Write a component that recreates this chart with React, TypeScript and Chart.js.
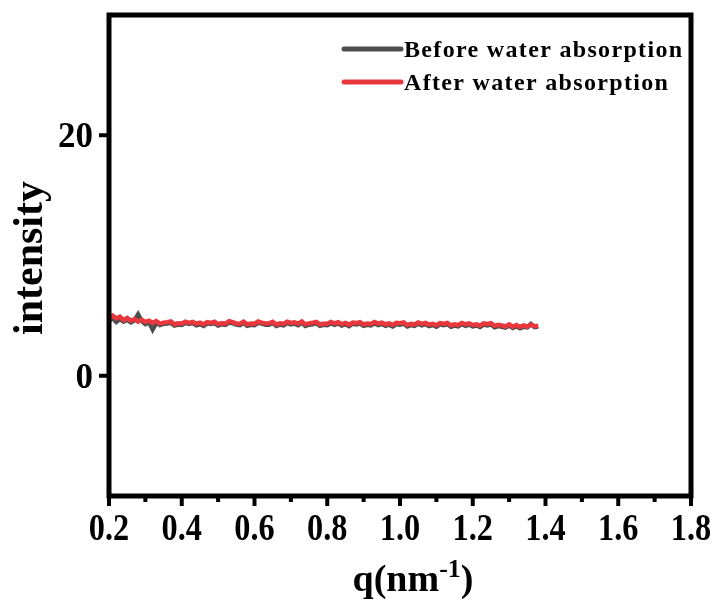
import React, { useEffect, useRef } from "react";
import { Chart, registerables } from "chart.js";
Chart.register(...registerables);

const qValues = [
  0.20, 0.21, 0.22, 0.23, 0.24, 0.25, 0.26, 0.27, 0.28, 0.29,
  0.30, 0.31, 0.32, 0.33, 0.34, 0.35, 0.36, 0.37, 0.38, 0.39,
  0.40, 0.41, 0.42, 0.43, 0.44, 0.45, 0.46, 0.47, 0.48, 0.49,
  0.50, 0.51, 0.52, 0.53, 0.54, 0.55, 0.56, 0.57, 0.58, 0.59,
  0.60, 0.61, 0.62, 0.63, 0.64, 0.65, 0.66, 0.67, 0.68, 0.69,
  0.70, 0.71, 0.72, 0.73, 0.74, 0.75, 0.76, 0.77, 0.78, 0.79,
  0.80, 0.81, 0.82, 0.83, 0.84, 0.85, 0.86, 0.87, 0.88, 0.89,
  0.90, 0.91, 0.92, 0.93, 0.94, 0.95, 0.96, 0.97, 0.98, 0.99,
  1.00, 1.01, 1.02, 1.03, 1.04, 1.05, 1.06, 1.07, 1.08, 1.09,
  1.10, 1.11, 1.12, 1.13, 1.14, 1.15, 1.16, 1.17, 1.18, 1.19,
  1.20, 1.21, 1.22, 1.23, 1.24, 1.25, 1.26, 1.27, 1.28, 1.29,
  1.30, 1.31, 1.32, 1.33, 1.34, 1.35, 1.36, 1.37, 1.38,
];

const beforeValues = [
  4.55, 4.80, 4.48, 4.72, 4.50, 4.66, 4.45, 4.62, 5.10, 4.55,
  4.30, 4.45, 3.85, 4.40, 4.22, 4.32, 4.35, 4.40, 4.18, 4.26,
  4.22, 4.40, 4.31, 4.38, 4.20, 4.28, 4.15, 4.36, 4.30, 4.38,
  4.18, 4.27, 4.22, 4.42, 4.37, 4.25, 4.20, 4.39, 4.15, 4.24,
  4.21, 4.40, 4.33, 4.25, 4.24, 4.38, 4.15, 4.26, 4.19, 4.40,
  4.27, 4.34, 4.21, 4.41, 4.15, 4.25, 4.28, 4.38, 4.16, 4.23,
  4.20, 4.37, 4.24, 4.35, 4.18, 4.29, 4.13, 4.33, 4.27, 4.36,
  4.15, 4.24, 4.18, 4.37, 4.22, 4.32, 4.16, 4.25, 4.11, 4.30,
  4.25, 4.34, 4.10, 4.21, 4.14, 4.33, 4.19, 4.29, 4.13, 4.22,
  4.08, 4.28, 4.20, 4.30, 4.07, 4.17, 4.11, 4.29, 4.16, 4.26,
  4.10, 4.18, 4.05, 4.25, 4.19, 4.27, 4.03, 4.13, 4.07, 4.00,
  4.18, 3.98, 4.12, 3.95, 4.08, 4.02, 4.30, 4.05, 4.10,
];

const afterValues = [
  4.70, 5.00, 4.78, 4.92, 4.62, 4.80, 4.58, 4.72, 4.50, 4.66,
  4.48, 4.58, 4.40, 4.55, 4.34, 4.42, 4.46, 4.52, 4.28, 4.36,
  4.34, 4.50, 4.40, 4.48, 4.33, 4.42, 4.28, 4.46, 4.40, 4.50,
  4.30, 4.37, 4.34, 4.53, 4.46, 4.35, 4.32, 4.50, 4.27, 4.34,
  4.33, 4.51, 4.42, 4.35, 4.36, 4.49, 4.27, 4.36, 4.31, 4.50,
  4.39, 4.44, 4.33, 4.52, 4.27, 4.35, 4.40, 4.48, 4.28, 4.33,
  4.32, 4.47, 4.36, 4.45, 4.30, 4.39, 4.25, 4.43, 4.38, 4.46,
  4.27, 4.34, 4.30, 4.47, 4.34, 4.42, 4.28, 4.35, 4.23, 4.40,
  4.37, 4.44, 4.22, 4.31, 4.26, 4.43, 4.31, 4.39, 4.25, 4.32,
  4.20, 4.38, 4.32, 4.40, 4.19, 4.27, 4.23, 4.39, 4.28, 4.36,
  4.22, 4.28, 4.17, 4.35, 4.31, 4.37, 4.15, 4.23, 4.19, 4.10,
  4.28, 4.08, 4.22, 4.05, 4.18, 4.09, 4.25, 4.12, 4.16,
];

const seriesNames = ["Before water absorption", "After water absorption"];
const seriesColors = ["#4d4d4d", "#e8383d"];

const xMin = 0.2;
const xMax = 1.8;
const yMin = -10;
const yMax = 30;
const xTickValues = [0.2, 0.4, 0.6, 0.8, 1.0, 1.2, 1.4, 1.6, 1.8];
const xTickLabels = ["0.2", "0.4", "0.6", "0.8", "1.0", "1.2", "1.4", "1.6", "1.8"];
const xMinorValues = [0.3, 0.5, 0.7, 0.9, 1.1, 1.3, 1.5, 1.7];
const yTickValues = [0, 20];
const yTickLabels = ["0", "20"];
const xTitleMain = "q(nm";
const xTitleSup = "-1";
const xTitleEnd = ")";
const yTitle = "intensity";

const SERIF = '"Liberation Serif", "Times New Roman", serif';

function scaledText(
  ctx: CanvasRenderingContext2D,
  text: string,
  x: number,
  y: number,
  size: number,
  sx: number,
  sy: number,
  align: CanvasTextAlign,
  baseline: CanvasTextBaseline
) {
  ctx.save();
  ctx.translate(x, y);
  ctx.scale(sx, sy);
  ctx.font = `bold ${size}px ${SERIF}`;
  ctx.textAlign = align;
  ctx.textBaseline = baseline;
  ctx.fillStyle = "#000";
  ctx.fillText(text, 0, 0);
  ctx.restore();
}

const decorPlugin = {
  id: "decor",
  afterDraw(chart: any) {
    const { ctx, chartArea: a, scales } = chart;
    const xs = scales.x;
    const ys = scales.y;
    ctx.save();
    // frame
    ctx.strokeStyle = "#000";
    ctx.lineWidth = 5;
    ctx.strokeRect(a.left, a.top, a.right - a.left, a.bottom - a.top);
    // ticks
    ctx.lineWidth = 4;
    ctx.lineCap = "butt";
    xTickValues.forEach((v) => {
      const px = xs.getPixelForValue(v);
      ctx.beginPath();
      ctx.moveTo(px, a.bottom);
      ctx.lineTo(px, a.bottom + 10);
      ctx.stroke();
    });
    xMinorValues.forEach((v) => {
      const px = xs.getPixelForValue(v);
      ctx.beginPath();
      ctx.moveTo(px, a.bottom);
      ctx.lineTo(px, a.bottom + 6);
      ctx.stroke();
    });
    yTickValues.forEach((v) => {
      const py = ys.getPixelForValue(v);
      ctx.beginPath();
      ctx.moveTo(a.left, py);
      ctx.lineTo(a.left - 10, py);
      ctx.stroke();
    });
    // tick labels
    xTickValues.forEach((v, i) => {
      const px = xs.getPixelForValue(v);
      scaledText(ctx, xTickLabels[i], px, 540, 38, 0.85, 1, "center", "alphabetic");
    });
    yTickValues.forEach((v, i) => {
      const py = ys.getPixelForValue(v);
      scaledText(ctx, yTickLabels[i], 93, py + 12, 36, 0.97, 1, "right", "alphabetic");
    });
    // x title
    ctx.font = `bold 38px ${SERIF}`;
    const w1 = ctx.measureText(xTitleMain).width;
    ctx.font = `bold 26px ${SERIF}`;
    const w2 = ctx.measureText(xTitleSup).width;
    ctx.font = `bold 38px ${SERIF}`;
    const w3 = ctx.measureText(xTitleEnd).width;
    const total = w1 + w2 + w3;
    let tx = 413 - total / 2;
    const base = 591;
    scaledText(ctx, xTitleMain, tx, base, 38, 1, 1, "left", "alphabetic");
    tx += w1;
    scaledText(ctx, xTitleSup, tx, base - 14, 26, 1, 1, "left", "alphabetic");
    tx += w2;
    scaledText(ctx, xTitleEnd, tx, base, 38, 1, 1, "left", "alphabetic");
    // y title
    ctx.save();
    ctx.translate(42, 258);
    ctx.rotate(-Math.PI / 2);
    ctx.font = `bold 42px ${SERIF}`;
    ctx.textAlign = "center";
    ctx.textBaseline = "alphabetic";
    ctx.fillStyle = "#000";
    ctx.fillText(yTitle, 0, 0);
    ctx.restore();
    // legend
    const legendSize = 24;
    ctx.font = `bold ${legendSize}px ${SERIF}`;
    const natural = ctx.measureText(seriesNames[0]).width;
    const spacing = Math.max(0, (278 - natural) / (seriesNames[0].length - 1));
    const rows = [49, 82];
    seriesNames.forEach((name, i) => {
      const ly = rows[i];
      ctx.strokeStyle = seriesColors[i];
      ctx.lineWidth = 5;
      ctx.lineCap = "round";
      ctx.beginPath();
      ctx.moveTo(344, ly);
      ctx.lineTo(401, ly);
      ctx.stroke();
      ctx.save();
      ctx.font = `bold ${legendSize}px ${SERIF}`;
      (ctx as any).letterSpacing = `${spacing.toFixed(2)}px`;
      ctx.textAlign = "left";
      ctx.textBaseline = "alphabetic";
      ctx.fillStyle = "#000";
      ctx.fillText(name, 404, ly + 8);
      ctx.restore();
    });
    ctx.restore();
  },
};

export default function App() {
  const ref = useRef<HTMLCanvasElement>(null);
  useEffect(() => {
    const toPoints = (vals: number[]) => qValues.map((q, i) => ({ x: q, y: vals[i] }));
    const chart = new Chart(ref.current as HTMLCanvasElement, {
      type: "line",
      data: {
        datasets: [
          {
            label: seriesNames[0],
            data: toPoints(beforeValues),
            borderColor: seriesColors[0],
            borderWidth: 4.5,
            pointRadius: 0,
            tension: 0,
            order: 2,
          },
          {
            label: seriesNames[1],
            data: toPoints(afterValues),
            borderColor: seriesColors[1],
            borderWidth: 4.5,
            pointRadius: 0,
            tension: 0,
            order: 1,
          },
        ],
      },
      options: {
        responsive: false,
        animation: false,
        layout: { padding: { left: 109, right: 27, top: 15, bottom: 106 } },
        plugins: { legend: { display: false }, tooltip: { enabled: false } },
        scales: {
          x: { type: "linear", min: xMin, max: xMax, display: false },
          y: { type: "linear", min: yMin, max: yMax, display: false },
        },
      },
      plugins: [decorPlugin],
    });
    return () => chart.destroy();
  }, []);
  return (
    <div style={{ position: "absolute", left: 0, top: 0, width: 718, height: 602, background: "#fff" }}>
      <canvas ref={ref} width={718} height={602} style={{ display: "block" }} />
    </div>
  );
}
